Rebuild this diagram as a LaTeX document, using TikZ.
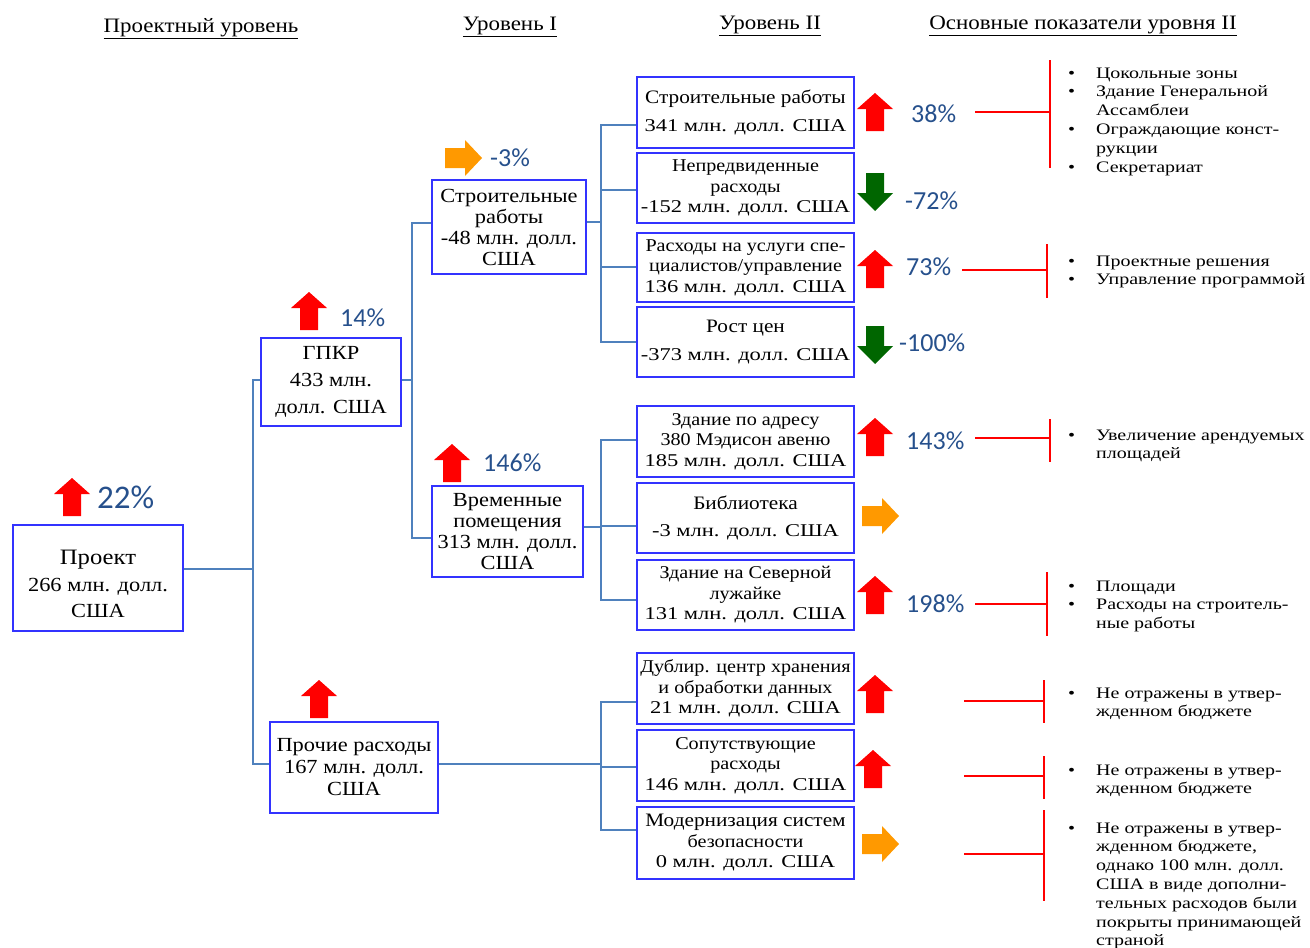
\documentclass[tikz,border=0pt]{standalone}
\usepackage{fontspec}
\setmainfont{Liberation Serif}[FakeStretch=1.12]
\newfontfamily\numfont{Liberation Serif}[FakeStretch=1.25]
\newfontfamily\bulfont{Liberation Serif}[FakeStretch=1.25]
\newfontfamily\pctfont{Carlito}
\newcommand{\mn}[1]{{\numfont #1}}
\definecolor{boxblue}{RGB}{51,51,255}
\definecolor{connblue}{RGB}{79,129,189}
\definecolor{pctblue}{RGB}{38,80,140}
\definecolor{arrred}{RGB}{255,0,0}
\definecolor{arrgreen}{RGB}{0,102,0}
\definecolor{arrorange}{RGB}{255,153,0}
\tikzset{
  box/.style={draw=boxblue, line width=1.5pt, fill=white, inner sep=0pt, align=center,
    font=\fontsize{18}{20.5}\selectfont},
  bigbox/.style={box, font=\fontsize{20}{21}\selectfont},
  conn/.style={draw=connblue, line width=1.6pt},
  brk/.style={draw=arrred, line width=2pt},
  pct/.style={anchor=west, inner sep=0pt, text=pctblue, font=\pctfont\fontsize{26}{28}\selectfont},
  hdr/.style={inner sep=0pt, font=\fontsize{20.5}{22}\selectfont},
  bul/.style={anchor=base west, inner sep=0pt, font=\bulfont\fontsize{16}{18.8}\selectfont},
  uparr/.pic={\fill[arrred] (0,0) -- (18,16) -- (9,16) -- (9,38) -- (-9,38) -- (-9,16) -- (-18,16) -- cycle;},
  dnarr/.pic={\fill[arrgreen] (-9,0) -- (9,0) -- (9,20) -- (18,20) -- (0,38) -- (-18,20) -- (-9,20) -- cycle;},
  rtarr/.pic={\fill[arrorange] (0,-10) -- (20,-10) -- (20,-18) -- (37,0) -- (20,18) -- (20,10) -- (0,10) -- cycle;}
}
\begin{document}
\begin{tikzpicture}[x=1pt,y=-1pt]
\useasboundingbox (0,0) rectangle (1310,948);
% headers
\node[hdr] (h0) at (201,29) {\underline{Проектный уровень}};
\node[hdr] (h1) at (510,27) {\underline{Уровень I}};
\node[hdr] (h2) at (770,26) {\underline{Уровень II}};
\node[hdr] (h3) at (1083,26) {\underline{Основные показатели уровня II}};
% boxes
\node[bigbox, minimum width=170, minimum height=106] (proj) at (98,578)
  {{\fontsize{22}{26}\selectfont\rule{0pt}{27pt}Проект}\\[6pt]266 млн. долл.\\[5pt]США};
\node[bigbox, minimum width=140, minimum height=88] (gpkr) at (331,382)
  {ГПКР\\[6pt]433 млн.\\[6pt]долл. США};
\node[bigbox, minimum width=168, minimum height=91] (proch) at (354,767.5)
  {Прочие расходы\\[1pt]167 млн. долл.\\[1pt]США};
\node[bigbox, minimum width=154, minimum height=94] (sr1) at (509,227)
  {Строительные\\работы\\-48 млн. долл.\\США};
\node[bigbox, minimum width=151, minimum height=91] (vp) at (507.5,531.5)
  {Временные\\помещения\\313 млн. долл.\\США};
\node[box, minimum width=217, minimum height=71] (b1) at (745.5,112.5)
  {{\fontsize{19}{20}\selectfont Строительные работы}\\[7pt]\mn{341 млн. долл. США}};
\node[box, minimum width=217, minimum height=70] (b2) at (745.5,188)
  {Непредвиденные\\расходы\\\mn{-152 млн. долл. США}};
\node[box, minimum width=217, minimum height=69] (b3) at (745.5,267.5)
  {Расходы на услуги спе-\\циалистов/управление\\\mn{136 млн. долл. США}};
\node[box, minimum width=217, minimum height=70] (b4) at (745.5,342)
  {{\fontsize{19}{20}\selectfont Рост цен}\\[7pt]\mn{-373 млн. долл. США}};
\node[box, minimum width=217, minimum height=71] (b5) at (745.5,441.5)
  {Здание по адресу\\380 Мэдисон авеню\\\mn{185 млн. долл. США}};
\node[box, minimum width=217, minimum height=70] (b6) at (745.5,518)
  {{\fontsize{19}{20}\selectfont Библиотека}\\[7pt]\mn{-3 млн. долл. США}};
\node[box, minimum width=217, minimum height=70] (b7) at (745.5,595)
  {Здание на Северной\\лужайке\\\mn{131 млн. долл. США}};
\node[box, minimum width=217, minimum height=71] (b8) at (745.5,688.5)
  {Дублир. центр хранения\\и обработки данных\\\mn{21 млн. долл. США}};
\node[box, minimum width=217, minimum height=71] (b9) at (745.5,765.5)
  {Сопутствующие\\расходы\\\mn{146 млн. долл. США}};
\node[box, minimum width=217, minimum height=72] (b10) at (745.5,843)
  {{\fontsize{19}{20.5}\selectfont Модернизация систем}\\безопасности\\\mn{0 млн. долл. США}};
% trunks
\coordinate (t0) at (253,0);
\coordinate (t1) at (412,0);
\coordinate (t2) at (601,0);
\draw[conn] ([yshift=9pt]proj.east) -- ([yshift=9pt]proj.east -| t0);
\draw[conn] ([yshift=2pt]gpkr.west) -| ([yshift=3.5pt]t0 |- proch.west) -- ([yshift=3.5pt]proch.west);
\draw[conn] ([yshift=2pt]gpkr.east) -- ([yshift=2pt]gpkr.east -| t1);
\draw[conn] ([yshift=4pt]sr1.west) -| ([yshift=-6.5pt]t1 |- vp.west) -- ([yshift=-6.5pt]vp.west);
\draw[conn] ([yshift=5pt]sr1.east) -- ([yshift=5pt]sr1.east -| t2);
\draw[conn] ([yshift=-12.5pt]b1.west) -| (t2 |- b4.west) -- (b4.west);
\draw[conn] ([yshift=-2pt]b2.west) -- ([yshift=-2pt]b2.west -| t2);
\draw[conn] ([yshift=0.5pt]b3.west) -- ([yshift=0.5pt]b3.west -| t2);
\draw[conn] ([yshift=4.5pt]vp.east) -- ([yshift=4.5pt]vp.east -| t2);
\draw[conn] ([yshift=1.5pt]b5.west) -| ([yshift=-5pt]t2 |- b7.west) -- ([yshift=-5pt]b7.west);
\draw[conn] ([yshift=-8pt]b6.west) -- ([yshift=-8pt]b6.west -| t2);
\draw[conn] ([yshift=3.5pt]proch.east) -- ([yshift=3.5pt]proch.east -| t2);
\draw[conn] ([yshift=-13.5pt]b8.west) -| ([yshift=13pt]t2 |- b10.west) -- ([yshift=13pt]b10.west);
\draw[conn] ([yshift=-1.5pt]b9.west) -- ([yshift=-1.5pt]b9.west -| t2);
% arrows
\pic at (72,478) {uparr};
\pic at (309,292) {uparr};
\pic at (452,444) {uparr};
\pic at (319,680) {uparr};
\pic at (875,93) {uparr};
\pic at (875,250) {uparr};
\pic at (875,418) {uparr};
\pic at (875,576) {uparr};
\pic at (875,675) {uparr};
\pic at (873,750) {uparr};
\pic at (875,173) {dnarr};
\pic at (875,326) {dnarr};
\pic at (445,158) {rtarr};
\pic at (862,516) {rtarr};
\pic at (862,844) {rtarr};
% percentages
\node[pct, font=\pctfont\fontsize{33}{35}\selectfont] (p0) at (97,497) {22\%};
\node[pct] (p1) at (340,318) {14\%};
\node[pct] (p2) at (483,463) {146\%};
\node[pct] (p3) at (490,158) {-3\%};
\node[pct] (p4) at (911,114) {38\%};
\node[pct] (p5) at (905,201) {-72\%};
\node[pct] (p6) at (906,267) {73\%};
\node[pct] (p7) at (899,343) {-100\%};
\node[pct] (p8) at (906,441) {143\%};
\node[pct] (p9) at (906,604) {198\%};
% brackets
\draw[brk] (975,112) -- (1050,112); \draw[brk] (1050,60) -- (1050,168);
\draw[brk] (962,270) -- (1047,270); \draw[brk] (1047,244) -- (1047,298);
\draw[brk] (975,438) -- (1050,438); \draw[brk] (1050,419) -- (1050,462);
\draw[brk] (975,604) -- (1047,604); \draw[brk] (1047,572) -- (1047,636);
\draw[brk] (964,701) -- (1044,701); \draw[brk] (1044,680) -- (1044,723);
\draw[brk] (964,776) -- (1044,776); \draw[brk] (1044,756) -- (1044,799);
\draw[brk] (964,854) -- (1044,854); \draw[brk] (1044,810) -- (1044,901);
% bullet lists
\node[bul] (g1) at (1068,78) {\begin{tabular}[t]{@{}l@{\hspace{21pt}}l@{}}
•&Цокольные зоны\\ •&Здание Генеральной\\ &Ассамблеи\\ •&Ограждающие конст-\\ &рукции\\ •&Секретариат\end{tabular}};
\node[bul] (g2) at (1068,266) {\begin{tabular}[t]{@{}l@{\hspace{21pt}}l@{}}
•&Проектные решения\\ •&Управление программой\end{tabular}};
\node[bul] (g3) at (1068,440) {\begin{tabular}[t]{@{}l@{\hspace{21pt}}l@{}}
•&Увеличение арендуемых\\ &площадей\end{tabular}};
\node[bul] (g4) at (1068,591) {\begin{tabular}[t]{@{}l@{\hspace{21pt}}l@{}}
•&Площади\\ •&Расходы на строитель-\\ &ные работы\end{tabular}};
\node[bul] (g5) at (1068,698) {\begin{tabular}[t]{@{}l@{\hspace{21pt}}l@{}}
•&Не отражены в утвер-\\ &жденном бюджете\end{tabular}};
\node[bul] (g6) at (1068,775) {\begin{tabular}[t]{@{}l@{\hspace{21pt}}l@{}}
•&Не отражены в утвер-\\ &жденном бюджете\end{tabular}};
\node[bul] (g7) at (1068,833) {\begin{tabular}[t]{@{}l@{\hspace{21pt}}l@{}}
•&Не отражены в утвер-\\ &жденном бюджете,\\ &однако 100 млн. долл.\\ &США в виде дополни-\\ &тельных расходов были\\ &покрыты принимающей\\ &страной\end{tabular}};
\end{tikzpicture}
\end{document}
